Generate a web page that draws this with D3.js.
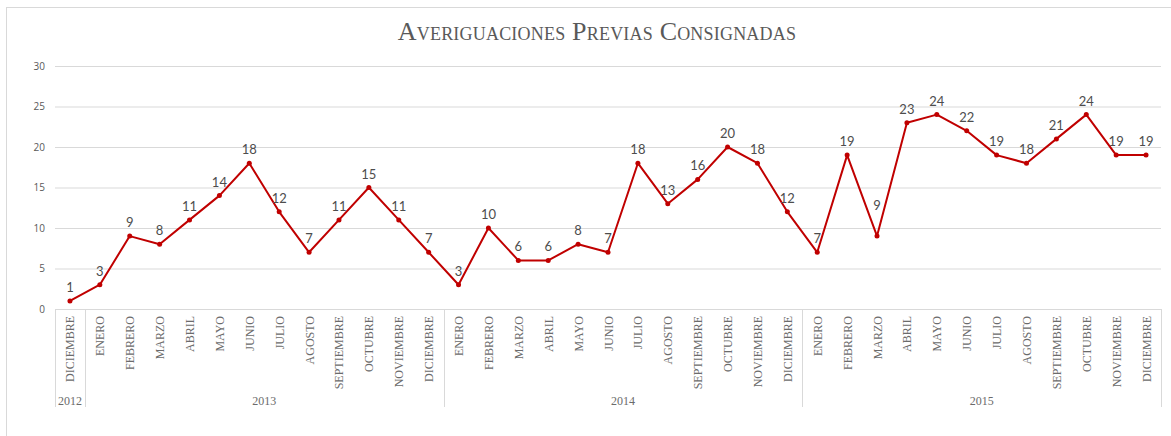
<!DOCTYPE html>
<html>
<head>
<meta charset="utf-8">
<script src="https://cdn.jsdelivr.net/npm/d3@7"></script>
<style>
  body { margin: 0; background: #fff; }
  svg { display: block; }
</style>
</head>
<body>
<div id="chart"></div>
<script>
// Datos
const years = ["2012", "2013", "2014", "2015"];
const yearMonths = [
    ["DICIEMBRE"],
    ["ENERO", "FEBRERO", "MARZO", "ABRIL", "MAYO", "JUNIO", "JULIO", "AGOSTO", "SEPTIEMBRE", "OCTUBRE", "NOVIEMBRE", "DICIEMBRE"],
    ["ENERO", "FEBRERO", "MARZO", "ABRIL", "MAYO", "JUNIO", "JULIO", "AGOSTO", "SEPTIEMBRE", "OCTUBRE", "NOVIEMBRE", "DICIEMBRE"],
    ["ENERO", "FEBRERO", "MARZO", "ABRIL", "MAYO", "JUNIO", "JULIO", "AGOSTO", "SEPTIEMBRE", "OCTUBRE", "NOVIEMBRE", "DICIEMBRE"]
];
const values = [1,
    3, 9, 8, 11, 14, 18, 12, 7, 11, 15, 11, 7,
    3, 10, 6, 6, 8, 7, 18, 13, 16, 20, 18, 12,
    7, 19, 9, 23, 24, 22, 19, 18, 21, 24, 19, 19];
const yTicks = [0, 5, 10, 15, 20, 25, 30];
const title = "Averiguaciones Previas Consignadas";

// etiqueta movida a mano en el original (marzo 2015)
const labelNudge = {"2015-2": -17};

// Construir las categorias (mes + año)
let cats = [];
let groups = [];
for (let i = 0; i < years.length; i++) {
    let start = cats.length;
    for (let j = 0; j < yearMonths[i].length; j++) {
        cats.push({key: years[i] + "-" + j, month: yearMonths[i][j], year: years[i]});
    }
    groups.push({year: years[i], start: start, end: cats.length});
}
let data = cats.map((c, i) => ({key: c.key, month: c.month, value: values[i]}));

const width = 1171, height = 436;
const plotLeft = 55, plotRight = 1161, plotTop = 66, plotBottom = 309;
const axisBottom = 407;

let svg = d3.select("#chart").append("svg")
    .attr("width", width)
    .attr("height", height);

// Borde del area del grafico
svg.append("rect")
    .attr("x", 6.5).attr("y", 7.5)
    .attr("width", 1200).attr("height", 500)
    .attr("fill", "#fff")
    .attr("stroke", "#d9d9d9")
    .attr("stroke-width", 1);

let x = d3.scaleBand()
    .domain(cats.map(c => c.key))
    .range([plotLeft, plotRight])
    .padding(0);

let y = d3.scaleLinear()
    .domain([0, 30])
    .range([plotBottom, plotTop]);

// Titulo
svg.append("text")
    .attr("x", 597)
    .attr("y", 40)
    .attr("text-anchor", "middle")
    .style("font-family", "'Liberation Serif', 'DejaVu Serif', serif")
    .style("font-size", "26px")
    .style("font-variant", "small-caps")
    .style("letter-spacing", "0.2px")
    .attr("fill", "#595959")
    .text(title);

// Lineas de cuadricula y etiquetas del eje y
let yAxis = d3.axisLeft(y)
    .tickValues(yTicks)
    .tickSize(-(plotRight - plotLeft))
    .tickPadding(10);

let yg = svg.append("g")
    .attr("transform", "translate(" + plotLeft + ",0)")
    .call(yAxis);
yg.select(".domain").remove();
yg.selectAll(".tick line")
    .attr("stroke", "#d9d9d9")
    .attr("stroke-width", 1);
yg.selectAll(".tick text")
    .attr("fill", "#595959")
    .style("font-family", "'Open Sans', sans-serif")
    .style("font-size", "10px");

// Eje x: linea base
svg.append("line")
    .attr("x1", plotLeft).attr("x2", plotRight)
    .attr("y1", plotBottom + 0.5).attr("y2", plotBottom + 0.5)
    .attr("stroke", "#d9d9d9");

// Separadores entre años
let sepX = [plotLeft].concat(groups.map(g => g.end === cats.length ? plotRight : x(cats[g.end].key)));
svg.selectAll(".sep")
    .data(sepX)
    .enter().append("line")
    .attr("class", "sep")
    .attr("x1", d => Math.round(d) + 0.5)
    .attr("x2", d => Math.round(d) + 0.5)
    .attr("y1", plotBottom)
    .attr("y2", axisBottom)
    .attr("stroke", "#d9d9d9");

// Etiquetas de meses (verticales)
svg.selectAll(".month")
    .data(data)
    .enter().append("text")
    .attr("class", "month")
    .attr("transform", d => "translate(" + (x(d.key) + x.bandwidth() / 2 + 4.5) + "," + (plotBottom + 7) + ") rotate(-90)")
    .attr("text-anchor", "end")
    .style("font-family", "'Liberation Serif', 'DejaVu Serif', serif")
    .style("font-size", "12px")
    .attr("fill", "#6b6b6b")
    .text(d => d.month);

// Etiquetas de años
svg.selectAll(".year")
    .data(groups)
    .enter().append("text")
    .attr("class", "year")
    .attr("x", g => (x(cats[g.start].key) + (g.end === cats.length ? plotRight : x(cats[g.end].key))) / 2)
    .attr("y", 405)
    .attr("text-anchor", "middle")
    .style("font-family", "'Liberation Serif', 'DejaVu Serif', serif")
    .style("font-size", "12px")
    .attr("fill", "#6b6b6b")
    .text(g => g.year);

// Serie
let line = d3.line()
    .x(d => x(d.key) + x.bandwidth() / 2)
    .y(d => y(d.value));

svg.append("path")
    .datum(data)
    .attr("d", line)
    .attr("fill", "none")
    .attr("stroke", "#c00000")
    .attr("stroke-width", 2)
    .attr("stroke-linejoin", "round");

svg.selectAll(".dot")
    .data(data)
    .enter().append("circle")
    .attr("class", "dot")
    .attr("cx", d => x(d.key) + x.bandwidth() / 2)
    .attr("cy", d => y(d.value))
    .attr("r", 2.5)
    .attr("fill", "#c00000");

// Etiquetas de datos
svg.selectAll(".label")
    .data(data)
    .enter().append("text")
    .attr("class", "label")
    .attr("x", d => x(d.key) + x.bandwidth() / 2)
    .attr("y", d => y(d.value) - 9 + (labelNudge[d.key] || 0))
    .attr("text-anchor", "middle")
    .style("font-family", "Lato, 'Open Sans', sans-serif")
    .style("font-size", "13px")
    .attr("fill", "#4d4d4d")
    .text(d => d.value);
</script>
</body>
</html>
